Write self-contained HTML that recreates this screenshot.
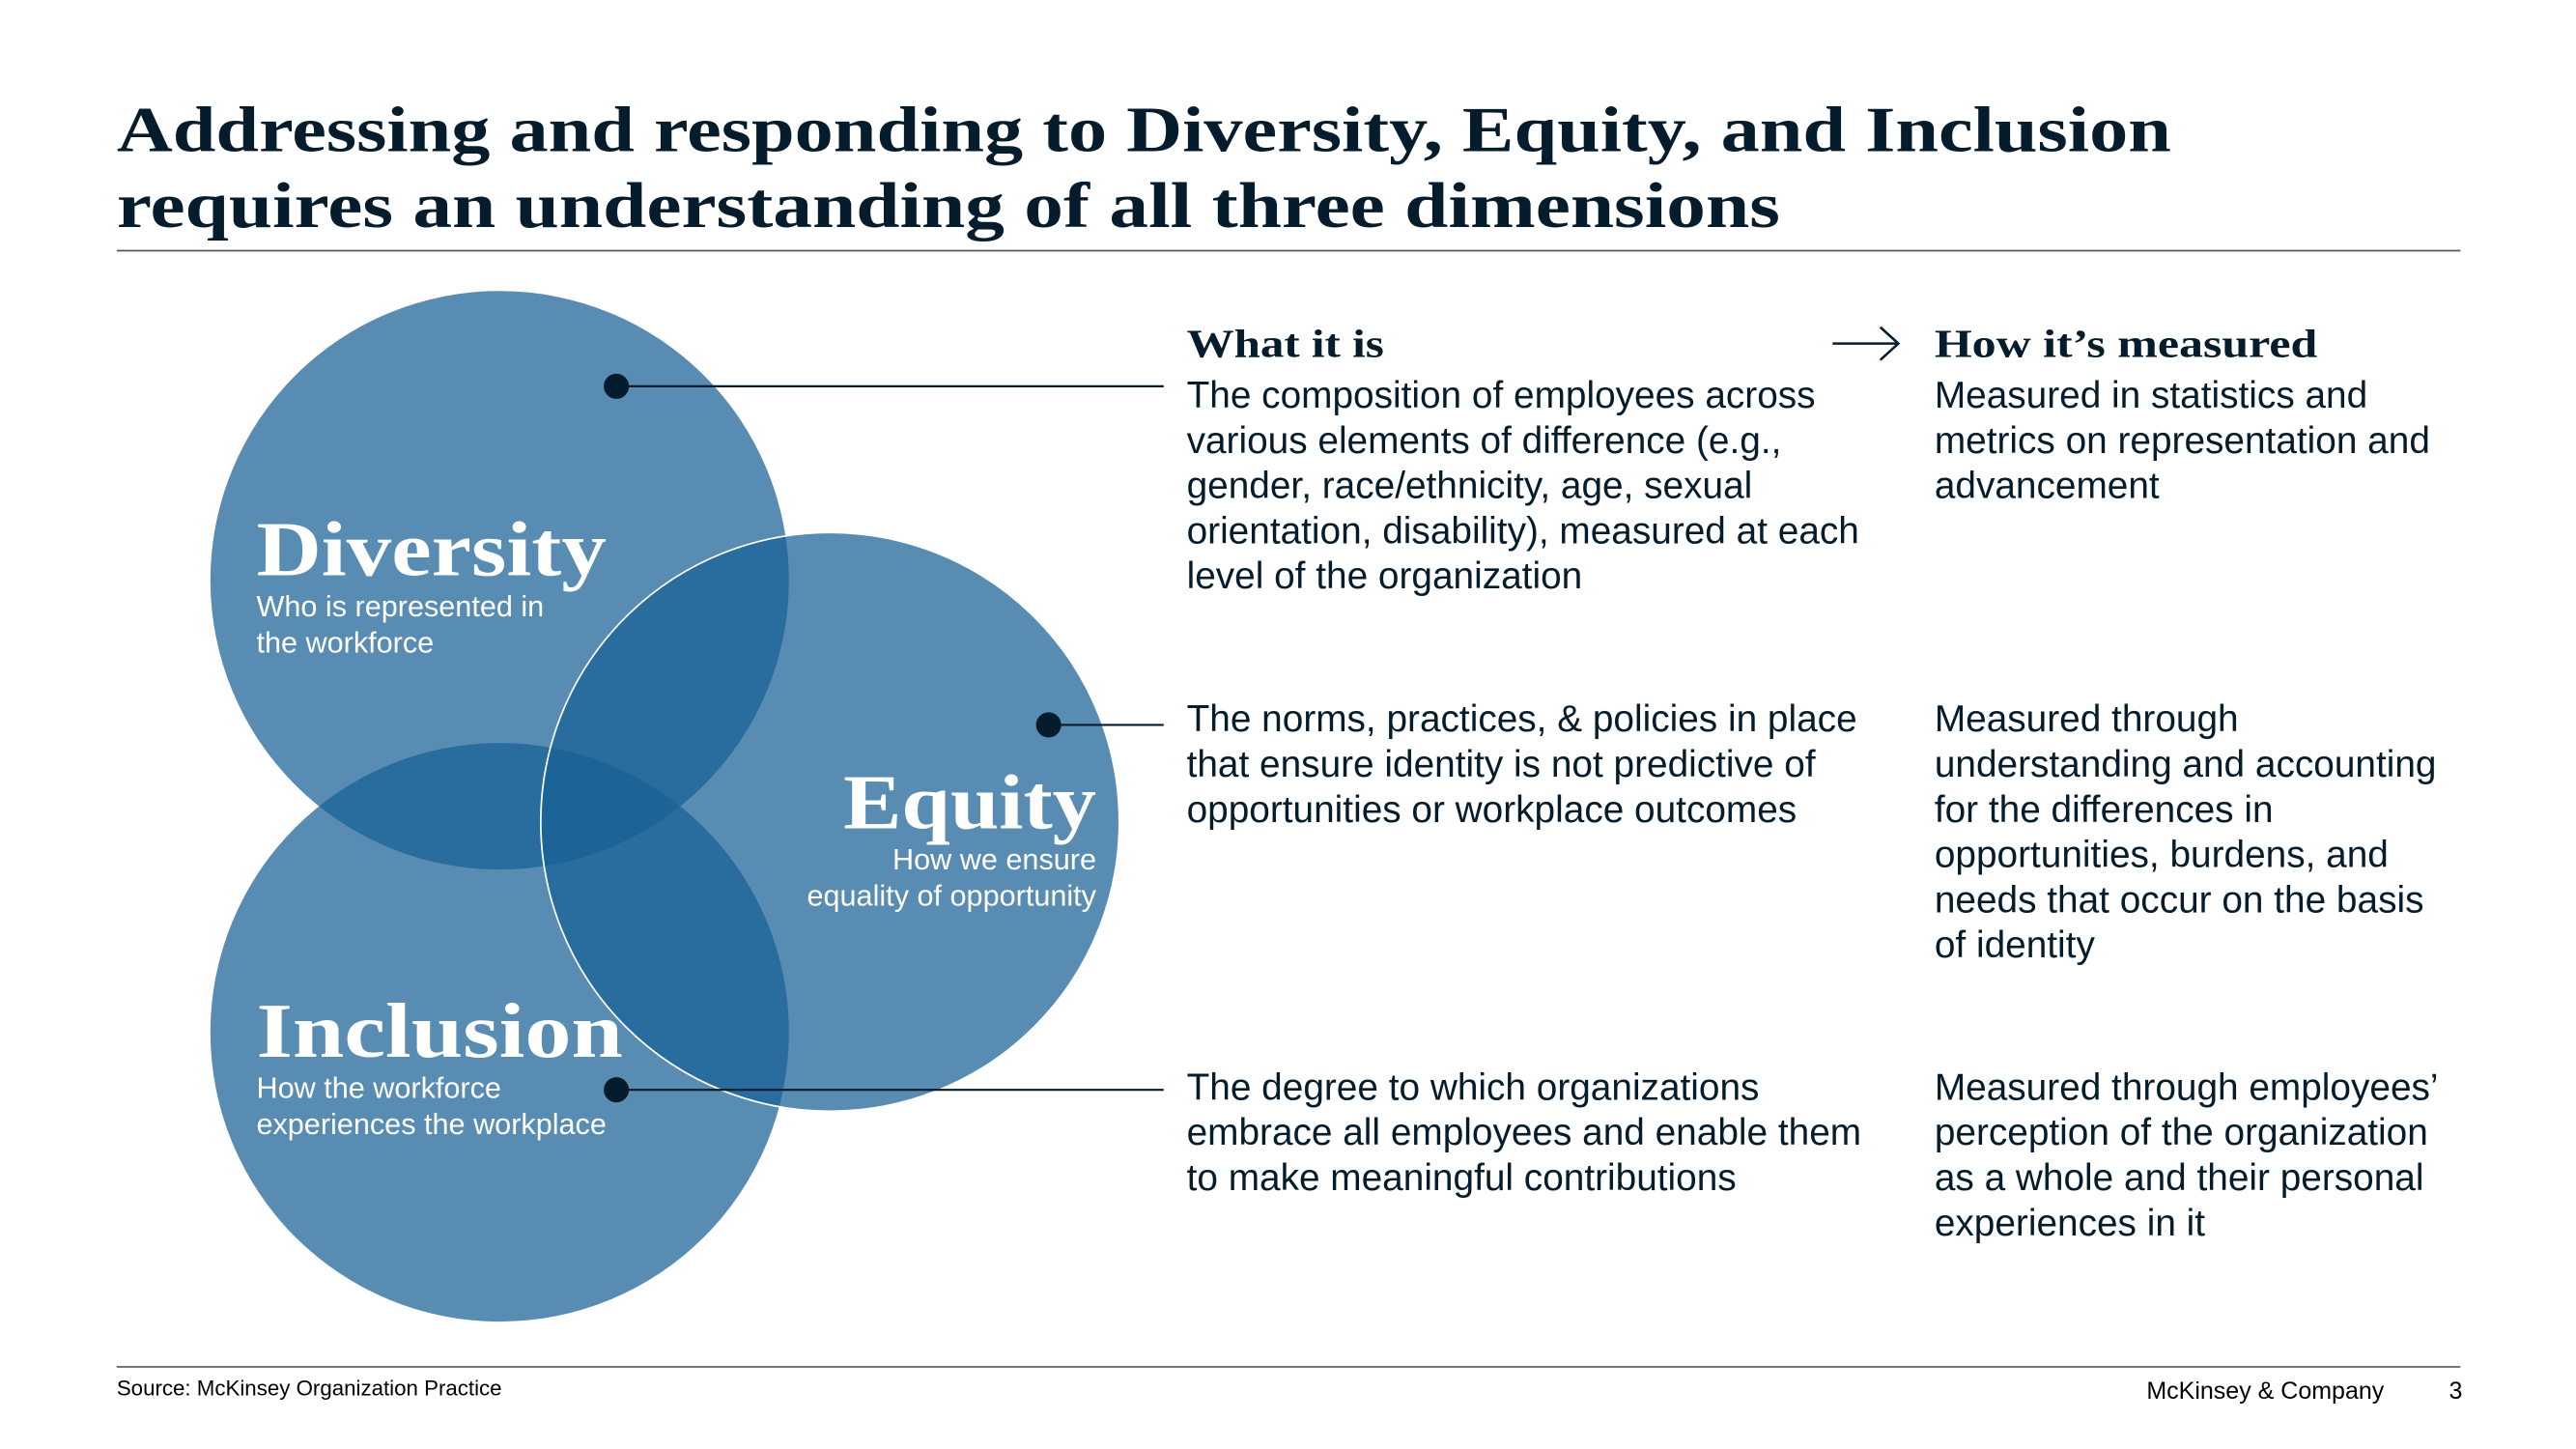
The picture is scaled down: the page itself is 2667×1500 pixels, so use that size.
<!DOCTYPE html>
<html><head><meta charset="utf-8"><style>
html,body{margin:0;padding:0;background:#fff;}
svg{display:block;}
.serif{font-family:"Liberation Serif",serif;font-weight:bold;}
.sans{font-family:"Liberation Sans",sans-serif;}
</style></head><body>
<svg width="2667" height="1500" viewBox="0 0 1567.3 881.5">
<g fill="#051c2c" class="serif" font-size="39.4">
<text x="71" y="92" textLength="1250" lengthAdjust="spacingAndGlyphs">Addressing and responding to Diversity, Equity, and Inclusion</text>
<text x="71" y="138" textLength="1012" lengthAdjust="spacingAndGlyphs">requires an understanding of all three dimensions</text>
</g>
<line x1="71" y1="152.5" x2="1497" y2="152.5" stroke="#555" stroke-width="1"/>
<g>
<circle cx="304" cy="353" r="176" fill="rgb(24,96,150)" fill-opacity="0.72"/>
<circle cx="304" cy="628" r="176" fill="rgb(24,96,150)" fill-opacity="0.72"/>
<circle cx="505" cy="500" r="176" fill="rgb(24,96,150)" fill-opacity="0.72" stroke="#fff" stroke-width="1"/>
</g>
<g fill="#fff">
<text x="156" y="350" class="serif" font-size="47.5" textLength="213" lengthAdjust="spacingAndGlyphs">Diversity</text>
<text x="156" y="375" class="sans" font-size="18">Who is represented in</text>
<text x="156" y="397" class="sans" font-size="18">the workforce</text>
<text x="513" y="504" class="serif" font-size="47.5" textLength="154" lengthAdjust="spacingAndGlyphs">Equity</text>
<text x="667" y="529" class="sans" font-size="18" text-anchor="end">How we ensure</text>
<text x="667" y="551" class="sans" font-size="18" text-anchor="end">equality of opportunity</text>
<text x="156" y="643" class="serif" font-size="47.5" textLength="223" lengthAdjust="spacingAndGlyphs">Inclusion</text>
<text x="156" y="668" class="sans" font-size="18">How the workforce</text>
<text x="156" y="690" class="sans" font-size="18">experiences the workplace</text>
</g>
<g stroke="#051c2c" stroke-width="1.3" fill="#051c2c">
<line x1="375" y1="235" x2="708" y2="235"/>
<circle cx="375" cy="235" r="7"/>
<line x1="638" y1="441" x2="708" y2="441"/>
<circle cx="638" cy="441" r="7"/>
<line x1="375" y1="663" x2="708" y2="663"/>
<circle cx="375" cy="663" r="7"/>
</g>
<text x="722" y="217" class="serif" font-size="24.2" fill="#051c2c" textLength="120" lengthAdjust="spacingAndGlyphs">What it is</text>
<g stroke="#051c2c" stroke-width="1.5" fill="none">
<line x1="1115" y1="209" x2="1155" y2="209"/>
<polyline points="1144,199 1155,209 1144,219"/>
</g>
<text x="1177" y="217" class="serif" font-size="24.2" fill="#051c2c" textLength="233" lengthAdjust="spacingAndGlyphs">How it’s measured</text>
<g class="sans" font-size="22.8" fill="#051c2c">
<text><tspan x="722" y="248">The composition of employees across</tspan><tspan x="722" dy="27.5">various elements of difference (e.g.,</tspan><tspan x="722" dy="27.5">gender, race/ethnicity, age, sexual</tspan><tspan x="722" dy="27.5">orientation, disability), measured at each</tspan><tspan x="722" dy="27.5">level of the organization</tspan></text>
<text><tspan x="1177" y="248">Measured in statistics and</tspan><tspan x="1177" dy="27.5">metrics on representation and</tspan><tspan x="1177" dy="27.5">advancement</tspan></text>
<text><tspan x="722" y="445">The norms, practices, &amp; policies in place</tspan><tspan x="722" dy="27.5">that ensure identity is not predictive of</tspan><tspan x="722" dy="27.5">opportunities or workplace outcomes</tspan></text>
<text><tspan x="1177" y="445">Measured through</tspan><tspan x="1177" dy="27.5">understanding and accounting</tspan><tspan x="1177" dy="27.5">for the differences in</tspan><tspan x="1177" dy="27.5">opportunities, burdens, and</tspan><tspan x="1177" dy="27.5">needs that occur on the basis</tspan><tspan x="1177" dy="27.5">of identity</tspan></text>
<text><tspan x="722" y="669">The degree to which organizations</tspan><tspan x="722" dy="27.5">embrace all employees and enable them</tspan><tspan x="722" dy="27.5">to make meaningful contributions</tspan></text>
<text><tspan x="1177" y="669">Measured through employees’</tspan><tspan x="1177" dy="27.5">perception of the organization</tspan><tspan x="1177" dy="27.5">as a whole and their personal</tspan><tspan x="1177" dy="27.5">experiences in it</tspan></text>
</g>
<line x1="71" y1="831.5" x2="1497" y2="831.5" stroke="#555" stroke-width="1"/>
<g class="sans" fill="#000">
<text x="71" y="849" font-size="13.1">Source: McKinsey Organization Practice</text>
<text x="1306" y="851" font-size="14.7">McKinsey &amp; Company</text>
<text x="1490" y="851" font-size="14.7">3</text>
</g>
</svg>
</body></html>
